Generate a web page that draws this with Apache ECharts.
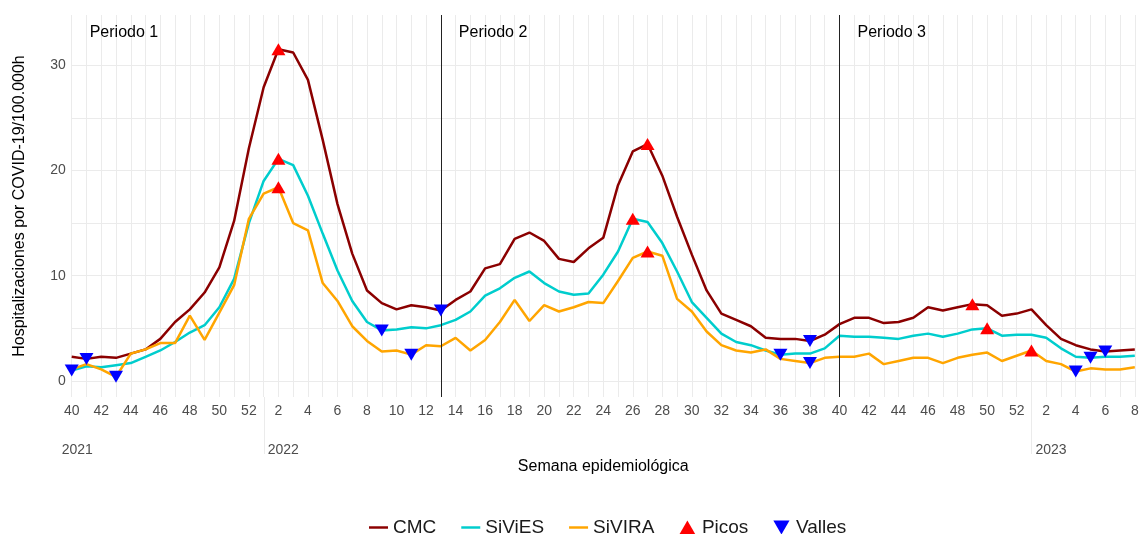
<!DOCTYPE html>
<html><head><meta charset="utf-8">
<script src="https://cdn.jsdelivr.net/npm/echarts@6/dist/echarts.min.js"></script>
<style>html,body{margin:0;padding:0;background:#fff}#c{width:1142px;height:534px}</style>
</head><body><div id="c"></div>
<script>
// Semana epidemiológica (2021-40 ... 2023-8)
const semanas = [40,41,42,43,44,45,46,47,48,49,50,51,52,
  1,2,3,4,5,6,7,8,9,10,11,12,13,14,15,16,17,18,19,20,21,22,23,24,25,26,27,28,29,30,31,32,33,34,35,36,37,38,39,40,41,42,43,44,45,46,47,48,49,50,51,52,
  1,2,3,4,5,6,7,8];
const anios = [2021,2021,2021,2021,2021,2021,2021,2021,2021,2021,2021,2021,2021,
  2022,2022,2022,2022,2022,2022,2022,2022,2022,2022,2022,2022,2022,2022,2022,2022,2022,2022,2022,2022,2022,2022,2022,2022,2022,2022,2022,2022,2022,2022,2022,2022,2022,2022,2022,2022,2022,2022,2022,2022,2022,2022,2022,2022,2022,2022,2022,2022,2022,2022,2022,2022,
  2023,2023,2023,2023,2023,2023,2023,2023];

const cmc = [2.3,2.1,2.3,2.2,2.6,3.0,4.0,5.6,6.8,8.4,10.8,15.2,22.1,
  27.9,31.5,31.2,28.6,22.9,16.8,12.1,8.6,7.4,6.8,7.2,7.0,6.7,7.7,8.5,10.7,11.1,13.5,14.1,13.3,11.6,11.3,12.6,13.6,18.6,21.8,22.5,19.5,15.6,12.0,8.6,6.4,5.8,5.2,4.1,4.0,4.0,3.8,4.4,5.4,6.0,6.0,5.5,5.6,6.0,7.0,6.7,7.0,7.3,7.2,6.2,6.4,
  6.8,5.3,4.0,3.4,3.0,2.8,2.9,3.0];
const sivies = [1.0,1.4,1.3,1.5,1.7,2.3,2.9,3.7,4.6,5.3,7.0,9.7,15.0,
  19.0,21.1,20.5,17.6,14.0,10.5,7.6,5.6,4.8,4.9,5.1,5.0,5.3,5.8,6.6,8.1,8.8,9.8,10.4,9.3,8.5,8.2,8.3,10.1,12.3,15.4,15.1,13.1,10.4,7.5,6.0,4.5,3.7,3.4,2.9,2.5,2.6,2.6,3.1,4.3,4.2,4.2,4.1,4.0,4.3,4.5,4.2,4.5,4.9,5.0,4.3,4.4,
  4.4,4.1,3.1,2.3,2.2,2.3,2.3,2.4];
const sivira = [1.1,1.6,1.1,0.4,2.6,3.0,3.6,3.6,6.2,3.9,6.5,9.1,15.4,
  17.8,18.4,15.0,14.3,9.3,7.6,5.2,3.8,2.8,2.9,2.5,3.4,3.3,4.1,2.9,3.9,5.6,7.7,5.7,7.2,6.6,7.0,7.5,7.4,9.5,11.7,12.3,11.9,7.8,6.6,4.7,3.4,2.9,2.7,3.0,2.1,1.9,1.7,2.2,2.3,2.3,2.6,1.6,1.9,2.2,2.2,1.7,2.2,2.5,2.7,1.9,2.4,
  2.9,1.9,1.6,0.9,1.2,1.1,1.1,1.3];

// Índices de picos y valles por serie
const picosIdx = {cmc:[14,39,61], sivies:[14,38,62], sivira:[14,39,65]};
const vallesIdx = {cmc:[1,25,50,70], sivies:[0,21,48,69], sivira:[3,23,50,68]};

const periodos = [{idx:0,label:'Periodo 1'},{idx:25,label:'Periodo 2'},{idx:52,label:'Periodo 3'}];
const cortes = [25,52];
const aniosEtiq = [{idx:0,label:'2021',dx:-10},{idx:13,label:'2022',dx:4},{idx:65,label:'2023',dx:4}];
const yLabels = [0,10,20,30];
const yGrid = [0,5,10,15,20,25,30];

const FONT = 'Liberation Sans, Arial, Helvetica, sans-serif';
const cats = semanas.map((w,i)=>anios[i]+'-'+w);
const series = {cmc:cmc, sivies:sivies, sivira:sivira};
const picos = [], valles = [];
for (const k of ['cmc','sivies','sivira']) {
  picosIdx[k].forEach(i=>picos.push([i, series[k][i]]));
  vallesIdx[k].forEach(i=>valles.push([i, series[k][i]]));
}
const LINE_ICON = 'path://M0,0L20,0L20,2.6L0,2.6Z';
const UP_ICON = 'path://M1,0L2,1.732L0,1.732Z';
const DOWN_ICON = 'path://M0,0L2,0L1,1.732Z';

const chart = echarts.init(document.getElementById('c'), null, {renderer:'canvas'});
const option = {
  animation:false,
  backgroundColor:'#fff',
  textStyle:{fontFamily:FONT},
  grid:{left:71.7, right:7.2, top:15, bottom:137, containLabel:false},
  legend:{
    data:[{name:'CMC',icon:LINE_ICON},{name:'SiViES',icon:LINE_ICON},{name:'SiVIRA',icon:LINE_ICON},
          {name:'Picos',icon:UP_ICON},{name:'Valles',icon:DOWN_ICON}],
    symbolKeepAspect:true,
    top:513, left:364,
    itemWidth:19, itemHeight:14, itemGap:25,
    textStyle:{fontSize:19, color:'#1a1a1a', fontFamily:FONT}
  },
  xAxis:[{
    type:'category', data:cats, boundaryGap:false,
    axisLine:{show:false}, axisTick:{show:false},
    axisLabel:{
      interval:function(i){return semanas[i]%2===0;},
      formatter:function(v,i){return String(semanas[i]);},
      color:'#4d4d4d', fontSize:14, margin:7, fontFamily:FONT
    },
    splitLine:{show:true, interval:0, lineStyle:{color:'#ebebeb', width:1}},
    name:'Semana epidemiológica', nameLocation:'middle', nameGap:62,
    nameTextStyle:{fontSize:16, color:'#000', fontFamily:FONT}
  }],
  yAxis:[{
    type:'value', min:-1.52, max:34.76,
    axisLine:{show:false},
    axisTick:{show:false, customValues:yGrid},
    axisLabel:{customValues:yLabels, color:'#4d4d4d', fontSize:14, margin:6, fontFamily:FONT},
    splitLine:{show:true, lineStyle:{color:'#ebebeb', width:1}},
    name:'Hospitalizaciones por COVID-19/100.000h', nameLocation:'middle', nameGap:44,
    nameTextStyle:{fontSize:16, color:'#000', fontFamily:FONT}
  }],
  series:[
    {name:'CMC', type:'line', data:cmc, symbol:'none', lineStyle:{color:'#8B0000', width:2.5}, itemStyle:{color:'#8B0000'}, z:3,
     markLine:{silent:true, symbol:'none', label:{show:false},
       lineStyle:{color:'#222', width:1, type:'solid'},
       data:cortes.map(i=>({xAxis:i}))}},
    {name:'SiViES', type:'line', data:sivies, symbol:'none', lineStyle:{color:'#00CDCD', width:2.5}, itemStyle:{color:'#00CDCD'}, z:3},
    {name:'SiVIRA', type:'line', data:sivira, symbol:'none', lineStyle:{color:'#FFA500', width:2.5}, itemStyle:{color:'#FFA500'}, z:3},
    {name:'Picos', type:'scatter', data:picos, symbol:'triangle', symbolSize:[14,12], itemStyle:{color:'#FF0000', opacity:1}, z:5},
    {name:'Valles', type:'scatter', data:valles, symbol:DOWN_ICON, symbolSize:[14,12], itemStyle:{color:'#0000FF', opacity:1}, z:5}
  ]
};
chart.setOption(option);

const g = [];
periodos.forEach(p=>{
  const pt = chart.convertToPixel({gridIndex:0},[p.idx,33.05]);
  g.push({type:'text', x:pt[0]+18, y:pt[1], style:{text:p.label, font:'16px '+FONT, fill:'#000', textVerticalAlign:'middle', textAlign:'left'}});
});
const yBot = chart.convertToPixel({gridIndex:0},[0,-1.52])[1];
aniosEtiq.forEach(a=>{
  const pt = chart.convertToPixel({gridIndex:0},[a.idx,0]);
  g.push({type:'text', x:pt[0]+a.dx, y:yBot+53, style:{text:a.label, font:'14px '+FONT, fill:'#4d4d4d', textVerticalAlign:'middle', textAlign:'left'}});
  if (a.idx>0) g.push({type:'line', shape:{x1:Math.round(pt[0])+0.5, y1:yBot, x2:Math.round(pt[0])+0.5, y2:yBot+57}, style:{stroke:'#ebebeb', lineWidth:1}});
});
chart.setOption({graphic:g});
</script></body></html>
